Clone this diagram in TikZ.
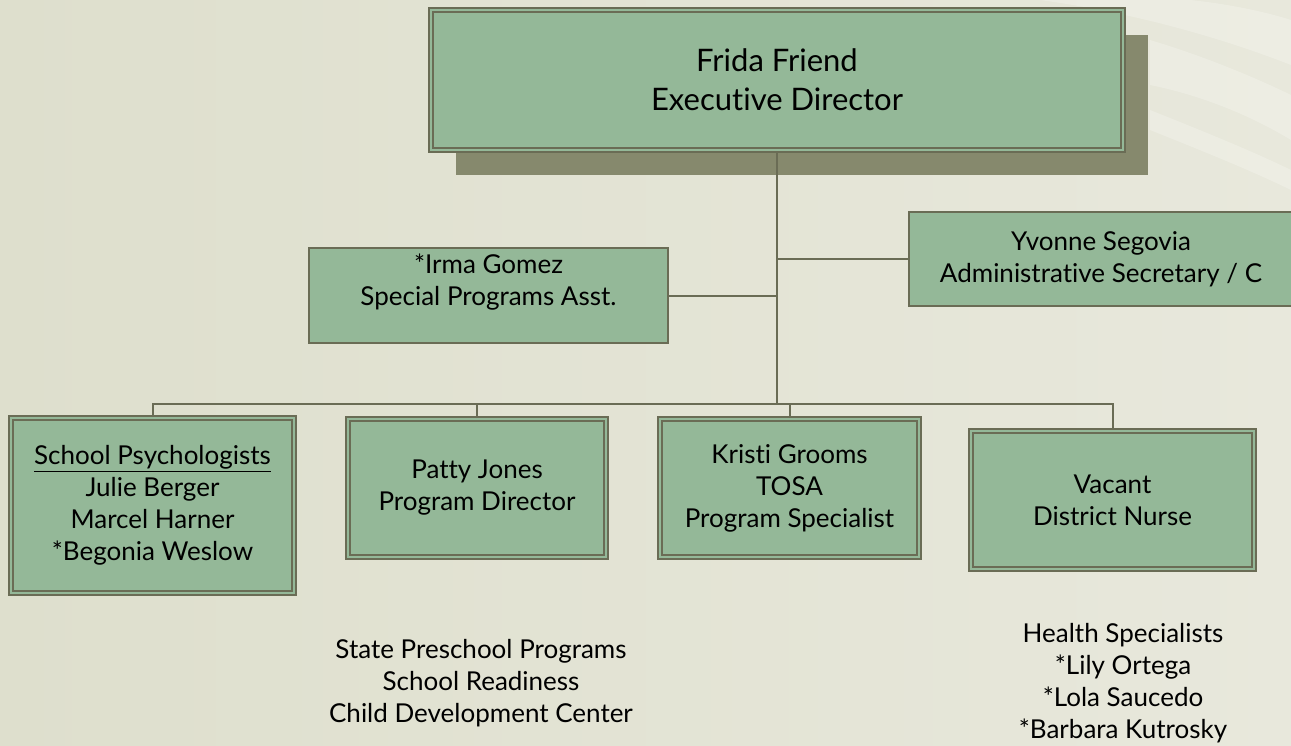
\documentclass[tikz,border=0pt]{standalone}
\usepackage{fontspec}
\setmainfont[Ligatures=NoCommon]{Lato}
\usetikzlibrary{shadows}
\definecolor{bgA}{HTML}{DEDFCD}
\definecolor{bgB}{HTML}{E8E8DC}
\definecolor{boxfill}{HTML}{94B898}
\definecolor{edgec}{HTML}{6A6C55}
\definecolor{shadec}{HTML}{86896D}
\tikzset{
  dbox/.style={draw=edgec, line width=2pt, double=boxfill, double distance=2pt,
    fill=boxfill, align=center, inner sep=0pt, text=black,
    font=\fontsize{26}{32}\selectfont},
  sbox/.style={draw=edgec, line width=2pt, fill=boxfill, align=center,
    inner sep=0pt, text=black, font=\fontsize{26}{32}\selectfont},
  plain/.style={align=center, inner sep=0pt, text=black,
    font=\fontsize{26}{32}\selectfont},
  conn/.style={draw=edgec, line width=2pt},
  swoosh/.style={fill=white, opacity=0.22}
}
\begin{document}
\begin{tikzpicture}[x=1pt,y=-1pt]
\useasboundingbox (0,0) rectangle (1291,745);
\clip (0,0) rectangle (1291,745);
\shade[left color=bgA, right color=bgB] (0,0) rectangle (1291,745);
\fill[swoosh] (1040,0) .. controls (1150,15) and (1240,45) .. (1291,65) -- (1291,20) .. controls (1260,10) and (1220,3) .. (1190,0) -- cycle;
\fill[swoosh] (1150,40) .. controls (1200,55) and (1250,75) .. (1291,95) -- (1291,140) .. controls (1250,115) and (1200,95) .. (1150,85) -- cycle;
\fill[swoosh] (1150,110) .. controls (1200,130) and (1250,150) .. (1291,170) -- (1291,190) .. controls (1250,170) and (1200,150) .. (1150,130) -- cycle;

\node[dbox, minimum width=692pt, minimum height=140pt,
  font=\fontsize{31}{39}\selectfont,
  drop shadow={shadow xshift=25pt, shadow yshift=-25pt, fill=shadec, opacity=1}]
  (top) at (777,80) {Frida Friend\\Executive Director};

\node[sbox, minimum width=359pt, minimum height=95pt] (irma) at (488.5,295.5)
  {*Irma Gomez\\Special Programs Asst.\\\mbox{}};
\node[sbox, minimum width=384pt, minimum height=94pt] (yv) at (1101,259)
  {Yvonne Segovia\\Administrative Secretary / C};

\node[dbox, minimum width=283pt, minimum height=175pt] (b1) at (152.5,505.5)
  {\underline{School Psychologists}\\Julie Berger\\Marcel Harner\\*Begonia Weslow};
\node[dbox, minimum width=258pt, minimum height=138pt] (b2) at (477,488)
  {Patty Jones\\Program Director};
\node[dbox, minimum width=259pt, minimum height=138pt] (b3) at (789.5,488)
  {Kristi Grooms\\TOSA\\Program Specialist};
\node[dbox, minimum width=283pt, minimum height=138pt] (b4) at (1112.5,500)
  {Vacant\\District Nurse};

\node[plain] (prog) at (481,683)
  {State Preschool Programs\\School Readiness\\Child Development Center};
\node[plain] (health) at (1123,683)
  {Health Specialists\\*Lily Ortega\\*Lola Saucedo\\*Barbara Kutrosky};

\coordinate (bar) at (0,404);
\draw[conn] (top.south) -- (top.south |- bar);
\draw[conn] (irma.east) -- (irma.east -| top.south);
\draw[conn] (yv.west) -- (yv.west -| top.south);
\draw[conn] (b1.north) -- (b1.north |- bar) -- (b4.north |- bar) -- (b4.north);
\draw[conn] (b2.north) -- (b2.north |- bar);
\draw[conn] (b3.north) -- (b3.north |- bar);
\end{tikzpicture}
\end{document}
